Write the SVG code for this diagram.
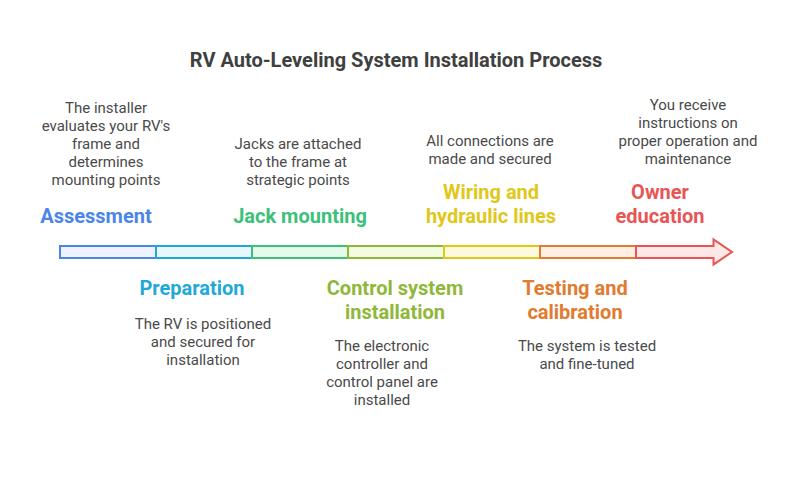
<svg xmlns="http://www.w3.org/2000/svg" width="792" height="480" viewBox="0 0 792 480">
<style>
.t{font-family:Roboto,"Liberation Sans",sans-serif;font-weight:bold;font-size:20px;fill:#404040;text-anchor:middle}
.h{font-family:Roboto,"Liberation Sans",sans-serif;font-weight:bold;font-size:20px;text-anchor:middle}
.d{font-family:Roboto,"Liberation Sans",sans-serif;font-size:15px;fill:#4a4a4a;text-anchor:middle}
.seg{stroke-width:2}
</style>
<rect width="792" height="480" fill="#ffffff"/>
<text class="t" x="396" y="67">RV Auto-Leveling System Installation Process</text>
<g id="connectors">
<rect class="seg" x="60" y="246" width="96" height="12" fill="#edf3fd" stroke="#4a86e8"/>
<rect class="seg" x="156" y="246" width="96" height="12" fill="#e8f7fc" stroke="#1fa9d9"/>
<rect class="seg" x="252" y="246" width="96" height="12" fill="#e4fbec" stroke="#3cc07a"/>
<rect class="seg" x="348" y="246" width="96" height="12" fill="#f3fbe0" stroke="#8fb83a"/>
<rect class="seg" x="444" y="246" width="96" height="12" fill="#fdf9dc" stroke="#e0c81a"/>
<rect class="seg" x="540" y="246" width="96" height="12" fill="#fdefe4" stroke="#e07b2f"/>
<path class="seg" d="M636 246 H713.5 V239.5 L732 252 L713.5 264.5 V258 H636 Z" fill="#fde8e8" stroke="#e85555" stroke-linejoin="miter"/>
</g>
<g id="assessment">
<text class="h" x="96" y="223" fill="#4a86e8">Assessment</text>
<text class="d" x="106" y="113">The installer</text>
<text class="d" x="106" y="131">evaluates your RV's</text>
<text class="d" x="106" y="149">frame and</text>
<text class="d" x="106" y="167">determines</text>
<text class="d" x="106" y="185">mounting points</text>
</g>
<g id="preparation">
<text class="h" x="192" y="295" fill="#1fa9d9">Preparation</text>
<text class="d" x="203" y="329">The RV is positioned</text>
<text class="d" x="203" y="347">and secured for</text>
<text class="d" x="203" y="365">installation</text>
</g>
<g id="jack">
<text class="h" x="300" y="223" fill="#3cc07a">Jack mounting</text>
<text class="d" x="298" y="149">Jacks are attached</text>
<text class="d" x="298" y="167">to the frame at</text>
<text class="d" x="298" y="185">strategic points</text>
</g>
<g id="control">
<text class="h" x="395" y="295" fill="#8fb83a">Control system</text>
<text class="h" x="395" y="319" fill="#8fb83a">installation</text>
<text class="d" x="382" y="351">The electronic</text>
<text class="d" x="382" y="369">controller and</text>
<text class="d" x="382" y="387">control panel are</text>
<text class="d" x="382" y="405">installed</text>
</g>
<g id="wiring">
<text class="h" x="491" y="199" fill="#e0c81a">Wiring and</text>
<text class="h" x="491" y="223" fill="#e0c81a">hydraulic lines</text>
<text class="d" x="490" y="146">All connections are</text>
<text class="d" x="490" y="164">made and secured</text>
</g>
<g id="testing">
<text class="h" x="575" y="295" fill="#e07b2f">Testing and</text>
<text class="h" x="575" y="319" fill="#e07b2f">calibration</text>
<text class="d" x="587" y="351">The system is tested</text>
<text class="d" x="587" y="369">and fine-tuned</text>
</g>
<g id="owner">
<text class="h" x="660" y="199" fill="#e85555">Owner</text>
<text class="h" x="660" y="223" fill="#e85555">education</text>
<text class="d" x="688" y="110">You receive</text>
<text class="d" x="688" y="128">instructions on</text>
<text class="d" x="688" y="146">proper operation and</text>
<text class="d" x="688" y="164">maintenance</text>
</g>
</svg>
